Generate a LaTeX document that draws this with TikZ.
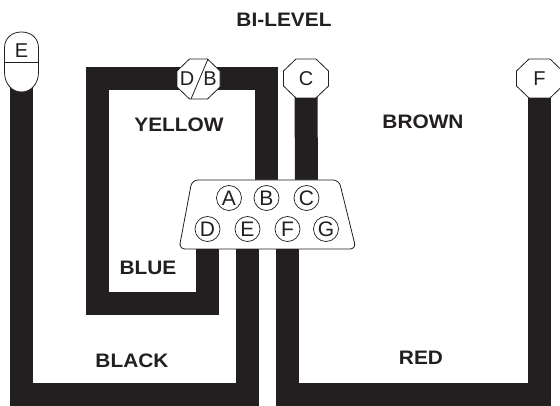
\documentclass[tikz,border=0pt]{standalone}
\usepackage{fontspec}
\setmainfont{Liberation Sans}
\usetikzlibrary{backgrounds}
\definecolor{ink}{HTML}{231F20}
\newcommand{\octashape}[4]{% cx cy half-width half-height
  \draw[outline,shift={(#1,#2)}] (-#3+12.5,-#4) -- (#3-12.5,-#4) -- (#3,-#4+12) -- (#3,#4-12) -- (#3-12.5,#4) -- (-#3+12.5,#4) -- (-#3,#4-12) -- (-#3,-#4+12) -- cycle;}
\tikzset{
  x=1pt,y=-1pt,
  wire/.style={draw=ink,line width=23pt,line join=miter,line cap=butt},
  outline/.style={draw=ink,line width=0.8pt,fill=white},
  tag/.style={inner sep=0pt,font=\fontsize{20}{20}\selectfont,text=ink},
  pin/.style={circle,draw=ink,line width=0.7pt,minimum size=25pt,inner sep=0pt,font=\fontsize{21}{21}\selectfont,text=ink},
  lbl/.style={font=\fontsize{19.5}{20}\selectfont\bfseries,text=ink,inner sep=0pt,xscale=1.07}
}
\begin{document}
\begin{tikzpicture}
\useasboundingbox (0,0) rectangle (560,406);
\clip (0,0) rectangle (560,406);
% connector shell
\draw[outline,rounded corners=6pt] (192,180) -- (339,180) -- (356,249) -- (179,249) -- cycle;
\node[pin] (pA) at (229,198) {A};
\node[pin] (pB) at (266.5,198) {B};
\node[pin] (pC) at (306.5,198) {C};
\node[pin] (pD) at (207.5,229) {D};
\node[pin] (pE) at (247.5,229) {E};
\node[pin] (pF) at (287.5,229) {F};
\node[pin] (pG) at (326,229) {G};
% wire-end blocks
\octashape{198.5}{79}{21.5}{20}
\draw[ink,line width=0.8pt] (208,59) -- (191,99);
\node[tag] (dl) at (187,79) {D};
\node[tag] (bl) at (210,79) {B};
\octashape{306}{78.5}{22.5}{19.5}
\node[tag] (cb) at (306,78.5) {C};
\octashape{539.5}{78.5}{23}{19.5}
\node[tag] (fb) at (539.5,78.5) {F};
\coordinate (eb) at (21.5,62);
\draw[outline] (4.5,62) -- (4.5,48) .. controls (4.5,38) and (12,32) .. (21.5,32) .. controls (31,32) and (38.5,38) .. (38.5,48) -- (38.5,72) .. controls (38.5,84) and (31,92) .. (21.5,92) .. controls (12,92) and (4.5,84) .. (4.5,72) -- cycle;
\draw[ink,line width=0.8pt] (4.5,62) -- (38.5,62);
\node[tag] (et) at (21.5,51) {E};
% wires under everything
\coordinate (ytop) at (97.5,79);
\coordinate (ybot) at (97.5,303.5);
\coordinate (kbot) at (21.5,394.5);
\coordinate (rbot) at (287.5,394.5);
\begin{scope}[on background layer]
\draw[wire] (pB) -- (pB |- ytop) -- (ytop) -- (ybot) -- (pD |- ybot) -- (pD);
\draw[wire] (cb) -- (pC);
\draw[wire] (eb) -- (kbot) -- (pE |- kbot) -- (pE);
\draw[wire] (pF) -- (rbot) -- (fb |- rbot) -- (fb);
\end{scope}
% labels
\node[lbl] (t0) at (284,19.5) {BI-LEVEL};
\node[lbl] (t1) at (179,124.5) {YELLOW};
\node[lbl] (t2) at (423,121.5) {BROWN};
\node[lbl] (t3) at (148,268) {BLUE};
\node[lbl] (t4) at (132,360.5) {BLACK};
\node[lbl] (t5) at (421,358) {RED};
\end{tikzpicture}
\end{document}
